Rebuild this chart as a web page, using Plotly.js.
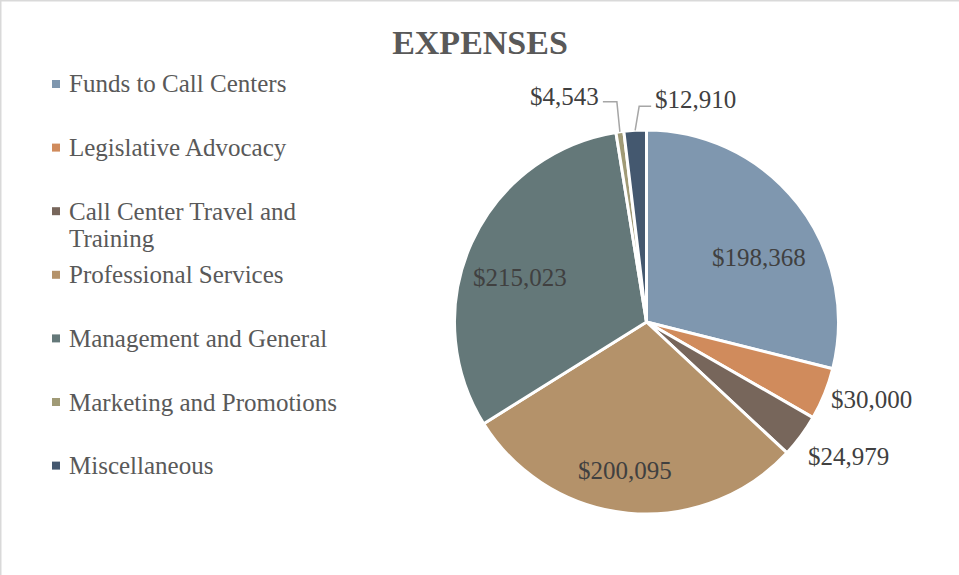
<!DOCTYPE html>
<html><head><meta charset="utf-8">
<script src="https://cdn.plot.ly/plotly-3.0.1.min.js"></script>
<style>html,body{margin:0;padding:0;background:#fff}#chart{width:959px;height:575px}</style>
</head><body><div id="chart"></div>
<script>
const categories = ['Funds to Call Centers', 'Legislative Advocacy', 'Call Center Travel and Training', 'Professional Services', 'Management and General', 'Marketing and Promotions', 'Miscellaneous'];
const legendLines = [['Funds to Call Centers'], ['Legislative Advocacy'], ['Call Center Travel and', 'Training'], ['Professional Services'], ['Management and General'], ['Marketing and Promotions'], ['Miscellaneous']];
const values = [198368, 30000, 24979, 200095, 215023, 4543, 12910];
const colors = ['#7f97af', '#d08b5c', '#77665b', '#b4926a', '#647879', '#a09a76', '#44586f'];

const W = 959, H = 575;
const FONT = 'Liberation Serif, Times New Roman, serif';
const px = x => x / W, py = y => 1 - y / H;

// pie geometry (pixels)
const cx = 646.5, cy = 322, R = 192;

const fmt = v => '$' + v.toLocaleString('en-US');

const shapes = [];
const annotations = [];

// legend (drawn manually to match spacing)
const legTop = 84, legStep = 63.6;
legendLines.forEach((lines, i) => {
  const yc = legTop + i * legStep;
  shapes.push({type: 'rect', xref: 'paper', yref: 'paper', x0: px(52), x1: px(60), y0: py(yc - 4), y1: py(yc + 4), fillcolor: colors[i], line: {width: 0}});
  lines.forEach((t, j) => {
    annotations.push({xref: 'paper', yref: 'paper', x: px(67), y: py(yc + j * 27), xanchor: 'left', yanchor: 'middle', showarrow: false, text: t, font: {family: FONT, size: 25, color: '#595959'}});
  });
});

// slice mid-angles from the data
const total = values.reduce((a, b) => a + b, 0);
let cum = 0;
const mids = values.map(v => { const m = (cum + v / 2) / total; cum += v; return m * 360; });
const rad = d => d * Math.PI / 180;

// data labels: radius factor and small angular nudge relative to the slice mid-angle
const labelPlace = [{r: 0.674, da: 8.3}, {r: 1.240, da: -3.1}, {r: 1.262, da: -2.7}, {r: 0.779, da: 2.8}, {r: 0.697, da: -5.2}, null, null];
labelPlace.forEach((p, i) => {
  if (!p) return;
  const a = rad(mids[i] + p.da);
  const x = cx + p.r * R * Math.sin(a), y = cy - p.r * R * Math.cos(a);
  annotations.push({xref: 'paper', yref: 'paper', x: px(x), y: py(y), xanchor: 'center', yanchor: 'middle', showarrow: false, text: fmt(values[i]), font: {family: FONT, size: 25, color: '#404040'}});
});

// leader-line labels for the two tiny slices
const leader = {5: {elbow: [-3, -30], run: -14, side: 'right', dy: -5}, 6: {elbow: [4, -24], run: 12, side: 'left', dy: -7}};
Object.keys(leader).forEach(k => {
  const i = +k, L = leader[k];
  const rx = cx + R * Math.sin(rad(mids[i])), ry = cy - R * Math.cos(rad(mids[i]));
  const ex = rx + L.elbow[0], ey = ry + L.elbow[1];
  const fx = ex + L.run;
  shapes.push({type: 'path', xref: 'paper', yref: 'paper', path: `M ${px(rx)} ${py(ry)} L ${px(ex)} ${py(ey)} L ${px(fx)} ${py(ey)}`, line: {color: '#a6a6a6', width: 1.5}});
  annotations.push({xref: 'paper', yref: 'paper', x: px(fx + (L.side === 'right' ? -2 : 2)), y: py(ey + L.dy), xanchor: L.side, yanchor: 'middle', showarrow: false, text: fmt(values[i]), font: {family: FONT, size: 25, color: '#404040'}});
});

// chart border (top & left)
shapes.push({type: 'line', xref: 'paper', yref: 'paper', x0: 0, x1: 1, y0: 1, y1: 1, line: {color: '#d9d9d9', width: 3}});
shapes.push({type: 'line', xref: 'paper', yref: 'paper', x0: 0, x1: 0, y0: 0, y1: 1, line: {color: '#d9d9d9', width: 3}});

const trace = {
  type: 'pie',
  labels: categories,
  values: values,
  sort: false,
  direction: 'clockwise',
  rotation: 0,
  marker: {colors: colors, line: {color: '#ffffff', width: 3}},
  textinfo: 'none',
  hoverinfo: 'none',
  showlegend: false,
  domain: {x: [px(cx - R), px(cx + R)], y: [py(cy + R), py(cy - R)]}
};

const layout = {
  width: W, height: H,
  margin: {l: 0, r: 0, t: 0, b: 0},
  paper_bgcolor: '#ffffff',
  showlegend: false,
  title: {text: '<b>EXPENSES</b>', x: px(480), y: py(42), xref: 'paper', yref: 'paper', xanchor: 'center', yanchor: 'middle', font: {family: FONT, size: 34, color: '#595959'}},
  shapes: shapes,
  annotations: annotations
};

Plotly.newPlot('chart', [trace], layout, {staticPlot: true, displayModeBar: false});
</script>
</body></html>
